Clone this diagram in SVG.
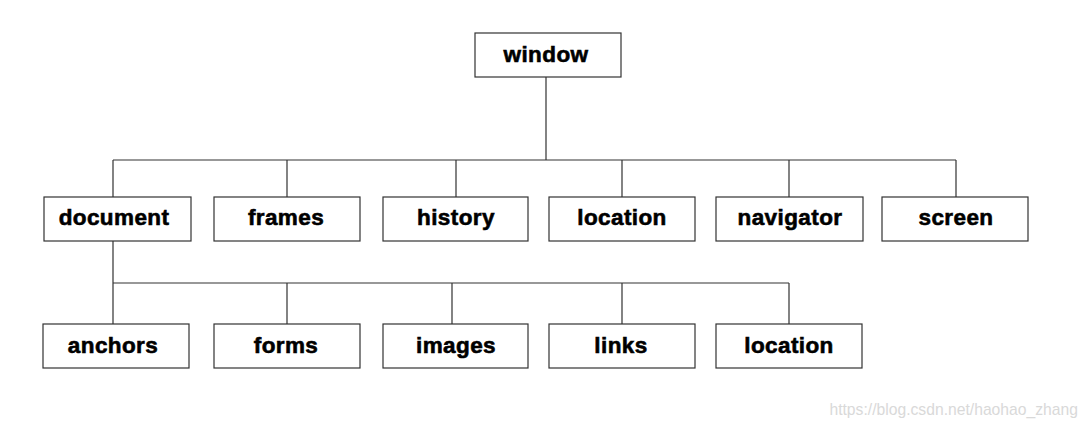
<svg xmlns="http://www.w3.org/2000/svg" width="1087" height="427" viewBox="0 0 1087 427">
<style>
.box{fill:#fff;stroke:#333;stroke-width:1.2}
.lbl{font-family:"Liberation Sans",Arial,sans-serif;font-weight:bold;font-size:22.5px;letter-spacing:0.4px;fill:#000;stroke:#000;stroke-width:0.6;text-anchor:middle}
.ln{stroke:#333;stroke-width:1.2;fill:none}
.wm{font-family:"Liberation Sans",Arial,sans-serif;font-size:15.7px;fill:#d9d9d9;text-anchor:end}
</style>
<rect width="1087" height="427" fill="#fff"/>
<g id="connectors">
<path class="ln" d="M546 77V160M113 160H956M113 160V197M287 160V197M456 160V197M622 160V197M789 160V197M956 160V197"/>
<path class="ln" d="M113 241V283H789M113 283V324M287 283V324M452 283V324M622 283V324M789 283V324"/>
</g>
<g id="window"><rect class="box" x="475" y="33" width="146" height="44"/><text class="lbl" x="546" y="62">window</text></g>
<g id="document"><rect class="box" x="44" y="197" width="147" height="44"/><text class="lbl" x="114" y="225">document</text></g>
<g id="frames"><rect class="box" x="214" y="197" width="146" height="44"/><text class="lbl" x="286" y="225">frames</text></g>
<g id="history"><rect class="box" x="383" y="197" width="145" height="44"/><text class="lbl" x="456" y="225">history</text></g>
<g id="location1"><rect class="box" x="549" y="197" width="146" height="44"/><text class="lbl" x="622" y="225">location</text></g>
<g id="navigator"><rect class="box" x="716" y="197" width="147" height="44"/><text class="lbl" x="790" y="225">navigator</text></g>
<g id="screen"><rect class="box" x="882" y="197" width="146" height="44"/><text class="lbl" x="956" y="225">screen</text></g>
<g id="anchors"><rect class="box" x="43" y="324" width="146" height="44"/><text class="lbl" x="113" y="353">anchors</text></g>
<g id="forms"><rect class="box" x="214" y="324" width="146" height="44"/><text class="lbl" x="286" y="353">forms</text></g>
<g id="images"><rect class="box" x="383" y="324" width="145" height="44"/><text class="lbl" x="456" y="353">images</text></g>
<g id="links"><rect class="box" x="549" y="324" width="146" height="44"/><text class="lbl" x="621" y="353">links</text></g>
<g id="location2"><rect class="box" x="716" y="324" width="146" height="44"/><text class="lbl" x="789" y="353">location</text></g>
<text class="wm" x="1078" y="415">https://blog.csdn.net/haohao_zhang</text>
</svg>
